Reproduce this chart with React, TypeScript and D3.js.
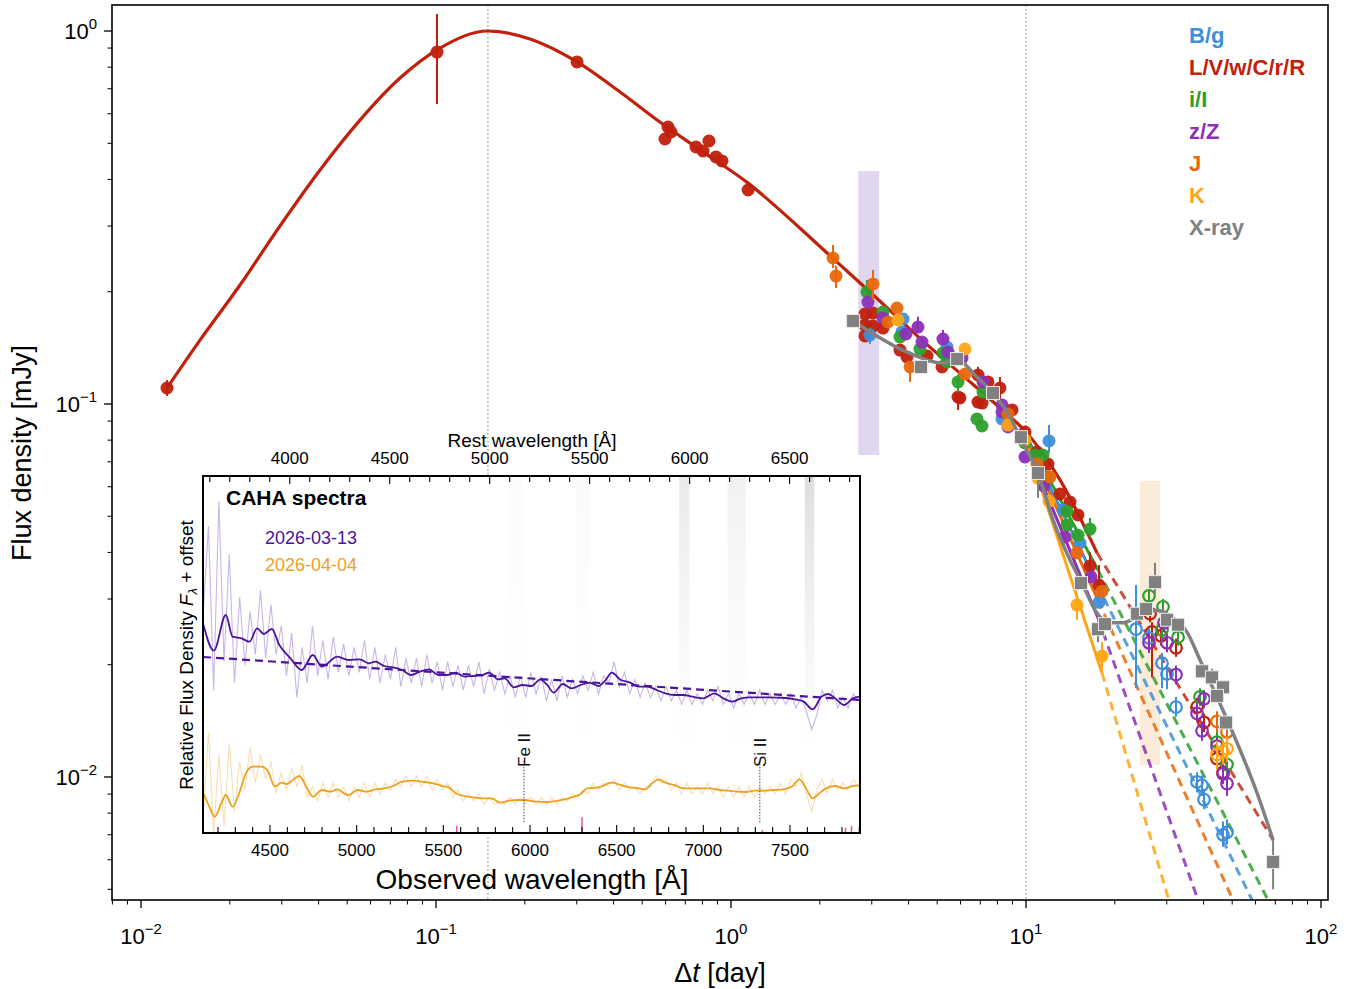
import React from "react";
import * as d3 from "d3";

// ---------------- DATA ----------------
const xMajorTicks = [0.01, 0.1, 1, 10, 100];
const xMajorExp = ["\u22122", "\u22121", "0", "1", "2"];
const yMajorTicks = [1, 0.1, 0.01];
const yMajorExp = ["0", "\u22121", "\u22122"];

const peakDay = 0.15;
const breakDay = 10;

const legendNames = ["B/g", "L/V/w/C/r/R", "i/I", "z/Z", "J", "K", "X-ray"];
const legendColors = ["#3d8fdc", "#c0200c", "#2ca02c", "#8b30b8", "#e8680c", "#ffa514", "#808080"];

// spectroscopic epochs shading: [t0, t1], [fLo, fHi]
const epochTimes = [[2.7, 3.18], [24.3, 28.5]];
const epochFlux = [[0.073, 0.421], [0.01077, 0.0622]];

// model curves [t (day), flux (mJy)]
const redModel = [[0.01225,0.1104],[0.01585,0.1484],[0.02166,0.2085],[0.02958,0.300],[0.04044,0.424],[0.05525,0.577],[0.07551,0.748],[0.1032,0.900],[0.150,1.0],[0.2084,0.952],[0.3008,0.826],[0.4207,0.686],[0.5741,0.570],[0.785,0.480],[1.143,0.391],[1.714,0.296],[2.25,0.243],[2.96,0.1997],[4.37,0.150],[5.97,0.121],[8.16,0.0976],[10,0.0841],[13.04,0.0626],[17.4,0.0399]];
const redDashed = [[17.4,0.0399],[68.8,0.00678]];
const greenSolid = [[10,0.0821],[17.54,0.0359]];
const greenDashed = [[17.54,0.0359],[66.1,0.00468]];
const blueSolid = [[10,0.0811],[18.38,0.0302]];
const blueDashed = [[18.38,0.0302],[58.4,0.00468]];
const jSolid = [[10,0.0801],[17.54,0.0298]];
const jDashed = [[17.54,0.0298],[50.3,0.00468]];
const zSolid = [[10,0.0777],[17.54,0.0267]];
const zDashed = [[17.54,0.0267],[38.3,0.00468]];
const kSolid = [[10,0.0791],[18.1,0.0190]];
const kDashed = [[18.1,0.0190],[30.5,0.00468]];
const xrayModel = [[2.593,0.167],[2.891,0.158],[3.95,0.1378],[5.23,0.1288],[5.84,0.1312],[6.82,0.1181],[7.73,0.1070],[8.83,0.0923],[9.54,0.0815],[10.98,0.0653],[12.35,0.0489],[14.10,0.0382],[15.48,0.0331],[17.4,0.0275],[19.26,0.0259],[21.32,0.0259],[23.79,0.0269],[27.8,0.0280],[31.5,0.0267],[35.1,0.0245],[38.9,0.0206],[44.4,0.01639],[50.3,0.01312],[60.7,0.00906],[68.8,0.00678]];

// photometry [t, f, fLo?, fHi?]
const redFilled = [[0.01225,0.1104,0.1051,0.1159],[0.1008,0.878,0.637,1.111],[0.3008,0.826],[0.5973,0.5134],[0.6114,0.5529],[0.626,0.536],[0.7608,0.4887],[0.8039,0.4768],[0.842,0.5071],[0.8896,0.4596],[0.9322,0.4484],[1.143,0.3748],[2.846,0.1743],[3.03,0.1754],[2.846,0.1628],[3.03,0.1618],[2.846,0.1522],[3.276,0.1598],[3.74,0.1395],[3.95,0.1337],[4.618,0.1344],[5.191,0.1257],[5.882,0.1044,0.0964,0.1125],[5.97,0.1038],[6.876,0.1196,0.1146,0.1257],[7.43,0.1146],[6.876,0.1012],[7.094,0.1006],[8.16,0.1104,0.1025,0.1181],[8.966,0.0964],[9.92,0.0841],[10.9,0.0743],[11.87,0.069],[13.04,0.0574],[14.1,0.0546],[15.0,0.0504],[16.48,0.0368,0.034,0.04],[17.68,0.0327,0.030,0.037]];
const redOpen = [[26.33,0.0274,0.026,0.029],[26.74,0.0245,0.0185,0.026],[28.69,0.0239,0.0225,0.0255],[32.25,0.0222,0.021,0.0235],[38.0,0.0154,0.0145,0.0163],[40.13,0.014,0.0132,0.0148],[44.4,0.0112,0.0105,0.0119],[46.54,0.0103,0.0096,0.011]];
const greenFilled = [[2.891,0.1997,0.19,0.215],[3.276,0.1764],[3.74,0.1512],[4.37,0.1404],[5.23,0.1369],[5.397,0.1296],[5.882,0.1146,0.1077,0.12],[7.15,0.1077],[6.82,0.0912],[7.094,0.0873],[9.92,0.0786],[10.73,0.073],[11.42,0.073],[11.97,0.0637],[13.77,0.0516],[13.77,0.0474],[15.0,0.0445],[16.48,0.0462,0.044,0.0495]];
const greenOpen = [[26.12,0.0306,0.029,0.033],[29.14,0.0286,0.027,0.030],[28.91,0.0248,0.023,0.027],[32.76,0.0237,0.0225,0.025],[38.9,0.0164,0.0155,0.0173],[44.4,0.0124,0.0116,0.0132],[48.01,0.0108,0.0101,0.0115]];
const blueFilled = [[2.959,0.1531,0.145,0.16],[3.83,0.169],[3.799,0.156],[5.397,0.1421],[8.29,0.0912],[11.97,0.0796,0.074,0.0878],[13.35,0.052],[15.24,0.0424],[17.68,0.0294]];
const blueOpen = [[23.6,0.0249,0.0173,0.0327],[26.12,0.0236,0.0222,0.025],[28.91,0.0202,0.0173,0.0215],[30.06,0.0189,0.0172,0.02],[32.25,0.0154,0.0145,0.0164],[38.0,0.0097,0.0091,0.0103],[39.51,0.0095,0.0089,0.0101],[40.13,0.0087,0.0082,0.0093],[46.54,0.007,0.0065,0.0076],[48.01,0.0071,0.0066,0.0077]];
const zFilled = [[2.913,0.1877],[3.276,0.17],[3.92,0.1541],[4.304,0.1608,0.155,0.1713],[4.442,0.1466],[5.23,0.1493,0.145,0.158],[5.439,0.1378],[6.069,0.1328],[7.15,0.1146],[8.29,0.0994],[8.29,0.0952],[8.69,0.0868],[9.92,0.0721],[11.51,0.0603],[13.56,0.044],[16.61,0.0344]];
const zOpen = [[26.12,0.0229,0.0215,0.0243],[29.36,0.0259,0.0245,0.0273],[30.06,0.0229,0.0216,0.0242],[32.25,0.0188,0.0177,0.0199],[40.13,0.0162,0.0153,0.0171],[38.0,0.0148,0.014,0.0157],[39.51,0.0133,0.0125,0.0141],[44.4,0.0121,0.0114,0.0128],[46.54,0.0102,0.0096,0.0108],[48.01,0.0096,0.0089,0.0103]];
const jFilled = [[2.217,0.2463,0.2315,0.2668],[2.27,0.2203,0.2046,0.235],[3.03,0.2098,0.19,0.2287],[3.653,0.1809],[3.406,0.1659],[4.045,0.1257,0.1146,0.13],[6.212,0.1203],[8.69,0.094],[10.9,0.069],[12.06,0.0637],[14.89,0.0399],[18.1,0.0315]];
const jOpen = [[44.4,0.0141,0.0132,0.015],[48.01,0.0132,0.012,0.0145]];
const kFilled = [[3.682,0.168],[6.212,0.1404],[8.69,0.0878],[9.92,0.0801],[10.98,0.0633],[11.97,0.0549],[14.89,0.0289,0.0264,0.031],[18.1,0.0211,0.019,0.023]];
const kOpen = [[44.4,0.0115,0.0105,0.0125],[46.54,0.0117,0.0108,0.0126],[48.01,0.0119,0.011,0.0128]];
const xrayPts = [[2.593,0.167],[4.407,0.1257],[5.84,0.132],[7.73,0.107],[9.62,0.0815],[10.98,0.0653,0.056,0.07],[15.36,0.0331],[17.54,0.0249,0.023,0.027],[18.52,0.0257],[23.79,0.0274],[25.52,0.0282],[27.37,0.0333,0.031,0.0375],[30.06,0.0264],[32.76,0.0256],[39.51,0.0192],[42.7,0.0185,0.0175,0.0195],[46.54,0.0174],[44.4,0.0165],[47.64,0.014],[68.8,0.00592,0.005,0.0068]];

// ---- inset spectra ----
const redshiftFactor = 1.1535;
const obsTicks = [4500, 5000, 5500, 6000, 6500, 7000, 7500];
const restTicks = [4000, 4500, 5000, 5500, 6000, 6500];
const spec1Label = "2026-03-13";
const spec2Label = "2026-04-04";
// smoothed spectra [obs wavelength, relative flux + offset]
const spec1Smooth = [[4116,0.5826],[4176,0.5107],[4245,0.6106],[4284,0.5499],[4335,0.5453],[4382,0.5359],[4425,0.5733],[4464,0.5574],[4510,0.5714],[4554,0.5266],[4618,0.4893],[4683,0.4566],[4747,0.4986],[4799,0.4659],[4889,0.4939],[4953,0.4846],[5018,0.4865],[5069,0.4753],[5108,0.4799],[5159,0.4678],[5211,0.464],[5262,0.4566],[5314,0.4426],[5365,0.4519],[5417,0.4584],[5471,0.4426],[5520,0.4426],[5571,0.4491],[5623,0.4379],[5674,0.4398],[5726,0.4426],[5764,0.4491],[5816,0.4304],[5854,0.4332],[5906,0.408],[5957,0.4146],[6009,0.4118],[6060,0.4304],[6099,0.4146],[6137,0.3931],[6189,0.4174],[6240,0.4052],[6292,0.4146],[6343,0.4211],[6395,0.4118],[6434,0.4267],[6472,0.4491],[6524,0.4286],[6575,0.422],[6627,0.4099],[6678,0.4099],[6730,0.4006],[6781,0.3912],[6833,0.3866],[6884,0.3866],[6936,0.3819],[7000,0.3772],[7064,0.3912],[7116,0.3772],[7167,0.3679],[7219,0.3772],[7270,0.38],[7373,0.38],[7476,0.3781],[7528,0.3744],[7579,0.3679],[7631,0.3464],[7682,0.3819],[7721,0.3894],[7760,0.3772],[7811,0.3585],[7862,0.3772],[7901,0.3819]];
const spec1Continuum = [[4114,0.493],[7904,0.3725]];
const spec2Smooth = [[4116,0.1111],[4150,0.0737],[4181,0.0457],[4219,0.0831],[4245,0.1064],[4284,0.0737],[4322,0.1111],[4361,0.1671],[4400,0.1858],[4451,0.1858],[4490,0.1718],[4528,0.1297],[4567,0.1409],[4598,0.1372],[4631,0.1484],[4670,0.1596],[4709,0.1297],[4747,0.1017],[4799,0.1204],[4850,0.1157],[4889,0.1223],[4927,0.1111],[4953,0.1064],[5005,0.1204],[5056,0.1157],[5108,0.1223],[5159,0.1251],[5211,0.1316],[5262,0.1437],[5326,0.1465],[5378,0.1437],[5442,0.1391],[5494,0.1316],[5532,0.1279],[5571,0.1111],[5623,0.1036],[5674,0.0999],[5726,0.0971],[5777,0.0971],[5829,0.0849],[5880,0.0905],[5932,0.0924],[5970,0.0924],[6034,0.0877],[6099,0.0868],[6163,0.0905],[6240,0.0999],[6292,0.1092],[6330,0.1251],[6395,0.1279],[6472,0.1409],[6524,0.1344],[6575,0.1279],[6627,0.1251],[6665,0.1223],[6704,0.1391],[6742,0.1503],[6781,0.1409],[6833,0.1344],[6884,0.1251],[6936,0.1251],[6987,0.1251],[7039,0.1251],[7090,0.1204],[7142,0.1185],[7193,0.1157],[7245,0.1148],[7296,0.1185],[7348,0.1185],[7399,0.1204],[7463,0.1223],[7515,0.1316],[7554,0.1503],[7592,0.1251],[7631,0.0971],[7669,0.1111],[7708,0.1251],[7760,0.1316],[7811,0.1251],[7862,0.1316],[7901,0.1335]];
// raw spectra sampled every rawStep Angstrom starting at rawStart
const rawStart = 4115;
const rawStep = 30;
const spec1Raw = [0.62,0.86,0.40,0.93,0.48,0.78,0.42,0.66,0.47,0.62,0.50,0.68,0.49,0.64,0.50,0.58,0.44,0.56,0.38,0.52,0.42,0.58,0.44,0.54,0.43,0.55,0.45,0.53,0.44,0.52,0.45,0.54,0.43,0.52,0.42,0.50,0.43,0.52,0.41,0.49,0.42,0.49,0.41,0.50,0.42,0.48,0.40,0.48,0.41,0.47,0.40,0.47,0.41,0.48,0.39,0.46,0.40,0.45,0.39,0.44,0.38,0.44,0.38,0.45,0.39,0.44,0.37,0.43,0.37,0.44,0.38,0.43,0.39,0.44,0.40,0.45,0.39,0.44,0.42,0.48,0.41,0.45,0.39,0.43,0.38,0.42,0.38,0.41,0.37,0.41,0.37,0.40,0.36,0.40,0.36,0.39,0.36,0.40,0.37,0.41,0.36,0.39,0.35,0.39,0.36,0.39,0.36,0.40,0.36,0.39,0.36,0.39,0.36,0.39,0.35,0.38,0.34,0.29,0.33,0.40,0.37,0.40,0.35,0.38,0.35,0.39,0.37];
const spec2Raw = [0.05,0.28,0.00,0.22,0.02,0.25,0.06,0.20,0.12,0.24,0.14,0.22,0.15,0.20,0.11,0.17,0.12,0.18,0.13,0.19,0.10,0.13,0.09,0.14,0.10,0.14,0.10,0.13,0.09,0.13,0.10,0.14,0.10,0.14,0.11,0.14,0.12,0.15,0.13,0.16,0.13,0.16,0.13,0.16,0.12,0.15,0.12,0.14,0.10,0.12,0.09,0.11,0.09,0.11,0.08,0.10,0.08,0.09,0.08,0.10,0.08,0.10,0.08,0.10,0.08,0.10,0.08,0.10,0.08,0.10,0.09,0.11,0.10,0.12,0.11,0.14,0.12,0.14,0.13,0.15,0.12,0.14,0.12,0.13,0.11,0.13,0.13,0.16,0.14,0.15,0.12,0.14,0.11,0.14,0.11,0.13,0.11,0.14,0.11,0.13,0.10,0.13,0.10,0.13,0.10,0.13,0.10,0.13,0.11,0.13,0.11,0.14,0.11,0.15,0.13,0.17,0.11,0.06,0.12,0.15,0.11,0.15,0.12,0.14,0.12,0.15,0.13];
// telluric regions [obs start, obs end, strength]
const telluric = [[5880,5960,0.08],[6265,6345,0.1],[6860,6920,0.45],[7140,7245,0.28],[7585,7640,0.7]];
// sky residuals [obs wavelength, height]
const skyLines = [[5577,0.02],[6300,0.045],[7340,0.008],[7820,0.015],[7855,0.02]];
const lineIDs = [{ name: "Fe II", obs: 5965 }, { name: "Si II", obs: 7326 }];

// ---------------- SCALES ----------------
const xS = d3.scaleLog().domain([0.01, 100]).range([141, 1321]);
const yS = d3.scaleLog().domain([1, 0.01]).range([31, 777]);
const FX0 = 112, FX1 = 1328, FY0 = 5, FY1 = 900;

const IX0 = 203, IX1 = 860, IY0 = 476, IY1 = 833;
const xi = d3.scaleLinear().domain([4500, 7500]).range([270, 790]);
const yi = d3.scaleLinear().domain([0, 1]).range([IY1, IY0]);

const FONT = "'Liberation Sans', Arial, Helvetica, sans-serif";

type Pt = number[];

const lineGen = d3.line<Pt>().x((d) => xS(d[0])).y((d) => yS(d[1]));
const smoothGen = d3.line<Pt>().x((d) => xS(d[0])).y((d) => yS(d[1])).curve(d3.curveMonotoneX);
const specGen = d3.line<Pt>().x((d) => xi(d[0])).y((d) => yi(d[1])).curve(d3.curveMonotoneX);
const rawGen = d3.line<Pt>().x((d) => xi(d[0])).y((d) => yi(d[1]));

function Filled({ pts, color }: { pts: Pt[]; color: string }) {
  return (
    <g>
      {pts.map((p, i) => (
        <g key={i}>
          {p.length > 2 && (
            <line x1={xS(p[0])} x2={xS(p[0])} y1={yS(p[2])} y2={yS(p[3])} stroke={color} strokeWidth={2} />
          )}
          <circle cx={xS(p[0])} cy={yS(p[1])} r={6.5} fill={color} opacity={0.95} />
        </g>
      ))}
    </g>
  );
}

function Open({ pts, color }: { pts: Pt[]; color: string }) {
  return (
    <g>
      {pts.map((p, i) => (
        <g key={i}>
          {p.length > 2 && (
            <line x1={xS(p[0])} x2={xS(p[0])} y1={yS(p[2])} y2={yS(p[3])} stroke={color} strokeWidth={2} />
          )}
          <circle cx={xS(p[0])} cy={yS(p[1])} r={5.8} fill="none" stroke={color} strokeWidth={2.2} />
        </g>
      ))}
    </g>
  );
}

export default function App() {
  const xMinor: number[] = [];
  [0.001, 0.01, 0.1, 1, 10, 100].forEach((d) => {
    for (let k = 2; k <= 9; k++) {
      const v = k * d;
      const px = xS(v);
      if (px >= FX0 && px <= FX1) xMinor.push(v);
    }
  });
  const yMinor: number[] = [];
  [0.001, 0.01, 0.1, 1].forEach((d) => {
    for (let k = 2; k <= 9; k++) {
      const v = k * d;
      const py = yS(v);
      if (py >= FY0 && py <= FY1) yMinor.push(v);
    }
  });
  const obsMinor = d3.range(4200, 7901, 100).filter((v) => xi(v) > IX0 && xi(v) < IX1);
  const restMinor = d3.range(3600, 6900, 100).filter((v) => xi(v * redshiftFactor) > IX0 && xi(v * redshiftFactor) < IX1);

  const raw1 = spec1Raw.map((v, i) => [rawStart + i * rawStep, v]);
  const raw2 = spec2Raw.map((v, i) => [rawStart + i * rawStep, v]);

  const modelLines = [
    { s: greenSolid, d: greenDashed, c: legendColors[2] },
    { s: blueSolid, d: blueDashed, c: legendColors[0] },
    { s: jSolid, d: jDashed, c: legendColors[4] },
    { s: zSolid, d: zDashed, c: legendColors[3] },
    { s: kSolid, d: kDashed, c: legendColors[5] },
  ];

  const epochColors = ["#e0d6ee", "#fbecd9"];

  return (
    <svg width={1354} height={989} style={{ position: "absolute", left: 0, top: 0, background: "#fff" }} fontFamily={FONT}>
      <defs>
        <clipPath id="plotClip">
          <rect x={FX0} y={FY0} width={FX1 - FX0} height={FY1 - FY0} />
        </clipPath>
        <clipPath id="insetClip">
          <rect x={IX0} y={IY0} width={IX1 - IX0} height={IY1 - IY0} />
        </clipPath>
        <linearGradient id="tellGrad" x1="0" y1="0" x2="0" y2="1">
          <stop offset="0" stopColor="#777" stopOpacity={0.35} />
          <stop offset="0.6" stopColor="#999" stopOpacity={0.15} />
          <stop offset="1" stopColor="#bbb" stopOpacity={0} />
        </linearGradient>
      </defs>
      <rect x={0} y={0} width={1354} height={989} fill="#fff" />

      <g clipPath="url(#plotClip)">
        {epochTimes.map((t, i) => (
          <rect key={i} x={xS(t[0])} width={xS(t[1]) - xS(t[0])} y={yS(epochFlux[i][1])} height={yS(epochFlux[i][0]) - yS(epochFlux[i][1])} fill={epochColors[i]} />
        ))}
        {[peakDay, breakDay].map((t, i) => (
          <line key={i} x1={xS(t)} x2={xS(t)} y1={FY0} y2={FY1} stroke="#999" strokeWidth={1.3} strokeDasharray="1.5,2.5" />
        ))}

        {modelLines.map((m, i) => (
          <g key={i}>
            <path d={lineGen(m.s) || ""} fill="none" stroke={m.c} strokeWidth={3} />
            <path d={lineGen(m.d) || ""} fill="none" stroke={m.c} strokeWidth={3} strokeDasharray="9,6" opacity={0.85} />
          </g>
        ))}
        <path d={lineGen(redDashed) || ""} fill="none" stroke={legendColors[1]} strokeWidth={3} strokeDasharray="9,6" opacity={0.8} />
        <path d={smoothGen(redModel) || ""} fill="none" stroke={legendColors[1]} strokeWidth={3.2} />

        <Filled pts={redFilled} color={legendColors[1]} />
        <Filled pts={blueFilled} color={legendColors[0]} />
        <Filled pts={greenFilled} color={legendColors[2]} />
        <Filled pts={zFilled} color={legendColors[3]} />
        <Filled pts={jFilled} color={legendColors[4]} />
        <Filled pts={kFilled} color={legendColors[5]} />
        <Open pts={redOpen} color={legendColors[1]} />
        <Open pts={blueOpen} color={legendColors[0]} />
        <Open pts={greenOpen} color={legendColors[2]} />
        <Open pts={zOpen} color={legendColors[3]} />
        <Open pts={jOpen} color={legendColors[4]} />
        <Open pts={kOpen} color={legendColors[5]} />

        <path d={smoothGen(xrayModel) || ""} fill="none" stroke="#808080" strokeWidth={3.5} />
        {xrayPts.map((p, i) => (
          <g key={i}>
            {p.length > 2 && (
              <line x1={xS(p[0])} x2={xS(p[0])} y1={yS(p[2])} y2={yS(p[3])} stroke="#808080" strokeWidth={2} />
            )}
            <rect x={xS(p[0]) - 6.5} y={yS(p[1]) - 6.5} width={13} height={13} fill="#808080" stroke="#e8e8e8" strokeWidth={1} />
          </g>
        ))}
      </g>

      <rect x={FX0} y={FY0} width={FX1 - FX0} height={FY1 - FY0} fill="none" stroke="#000" strokeWidth={1.6} />

      {xMajorTicks.map((v, i) => (
        <g key={i}>
          <line x1={xS(v)} x2={xS(v)} y1={FY1} y2={FY1 + 8} stroke="#000" strokeWidth={1.3} />
          <text x={xS(v)} y={944} textAnchor="middle" fontSize={22}>
            10<tspan dy={-10} fontSize={15}>{xMajorExp[i]}</tspan>
          </text>
        </g>
      ))}
      {xMinor.map((v, i) => (
        <line key={i} x1={xS(v)} x2={xS(v)} y1={FY1} y2={FY1 + 4.5} stroke="#000" strokeWidth={1} />
      ))}
      {yMajorTicks.map((v, i) => (
        <g key={i}>
          <line x1={FX0 - 8} x2={FX0} y1={yS(v)} y2={yS(v)} stroke="#000" strokeWidth={1.3} />
          <text x={97} y={yS(v) + 8} textAnchor="end" fontSize={22}>
            10<tspan dy={-10} fontSize={15}>{yMajorExp[i]}</tspan>
          </text>
        </g>
      ))}
      {yMinor.map((v, i) => (
        <line key={i} x1={FX0 - 4.5} x2={FX0} y1={yS(v)} y2={yS(v)} stroke="#000" strokeWidth={1} />
      ))}

      <text x={720} y={982} textAnchor="middle" fontSize={27}>
        Δ<tspan fontStyle="italic">t</tspan> [day]
      </text>
      <text transform="translate(31,453) rotate(-90)" textAnchor="middle" fontSize={27}>
        Flux density [mJy]
      </text>

      {legendNames.map((n, i) => (
        <text key={i} x={1189} y={42.7 + i * 32.1} fontSize={22} fontWeight="bold" fill={legendColors[i]}>
          {n}
        </text>
      ))}

      {/* ---------------- INSET ---------------- */}
      <rect x={IX0} y={IY0} width={IX1 - IX0} height={IY1 - IY0} fill="#fff" />
      <g clipPath="url(#insetClip)">
        {telluric.map((t, i) => (
          <rect key={i} x={xi(t[0])} width={xi(t[1]) - xi(t[0])} y={IY0} height={270} fill="url(#tellGrad)" opacity={t[2]} />
        ))}
        <path d={rawGen(raw1) || ""} fill="none" stroke="#bba4de" strokeWidth={1.1} opacity={0.8} />
        <path d={rawGen(raw2) || ""} fill="none" stroke="#f6d9a8" strokeWidth={1.1} opacity={0.85} />
        <path d={rawGen(spec1Continuum) || ""} fill="none" stroke="#4b139e" strokeWidth={2.2} strokeDasharray="8,5" />
        <path d={specGen(spec1Smooth) || ""} fill="none" stroke="#4b139e" strokeWidth={1.8} />
        <path d={specGen(spec2Smooth) || ""} fill="none" stroke="#eea020" strokeWidth={1.8} />
        {skyLines.map((s, i) => (
          <line key={i} x1={xi(s[0])} x2={xi(s[0])} y1={yi(0)} y2={yi(s[1])} stroke="#d6338a" strokeWidth={1.5} opacity={0.8} />
        ))}
        {lineIDs.map((l, i) => (
          <g key={i}>
            <line x1={xi(l.obs)} x2={xi(l.obs)} y1={yi(0.03)} y2={yi(0.205)} stroke="#333" strokeWidth={0.9} strokeDasharray="1.5,1.5" />
            <text transform={`translate(${xi(l.obs) + 6},767) rotate(-90)`} fontSize={17} fill="#111">
              {l.name}
            </text>
          </g>
        ))}
      </g>
      {obsMinor.map((v, i) => (
        <line key={"ob" + i} x1={xi(v)} x2={xi(v)} y1={IY1} y2={IY1 - (v % 500 === 0 ? 8 : 6)} stroke="#000" strokeWidth={1.1} />
      ))}
      {restMinor.map((v, i) => (
        <line key={"rs" + i} x1={xi(v * redshiftFactor)} x2={xi(v * redshiftFactor)} y1={IY0} y2={IY0 + (v % 500 === 0 ? 8 : 6)} stroke="#000" strokeWidth={1.1} />
      ))}
      <rect x={IX0} y={IY0} width={IX1 - IX0} height={IY1 - IY0} fill="none" stroke="#000" strokeWidth={2} />
      {obsTicks.map((v, i) => (
        <text key={i} x={xi(v)} y={856} textAnchor="middle" fontSize={17}>
          {v}
        </text>
      ))}
      {restTicks.map((v, i) => (
        <text key={i} x={xi(v * redshiftFactor)} y={464} textAnchor="middle" fontSize={17}>
          {v}
        </text>
      ))}
      <text x={532} y={447} textAnchor="middle" fontSize={19}>
        Rest wavelength [Å]
      </text>
      <text x={532} y={889} textAnchor="middle" fontSize={28}>
        Observed wavelength [Å]
      </text>
      <text transform="translate(193,655) rotate(-90)" textAnchor="middle" fontSize={19}>
        Relative Flux Density <tspan fontStyle="italic">F</tspan>
        <tspan fontStyle="italic" fontSize={13} dy={4}>λ</tspan>
        <tspan dy={-4}> + offset</tspan>
      </text>
      <text x={226} y={505} fontSize={21} fontWeight="bold">
        CAHA spectra
      </text>
      <text x={265} y={544} fontSize={18} fill="#4b139e">
        {spec1Label}
      </text>
      <text x={265} y={571} fontSize={18} fill="#eea020">
        {spec2Label}
      </text>
    </svg>
  );
}
